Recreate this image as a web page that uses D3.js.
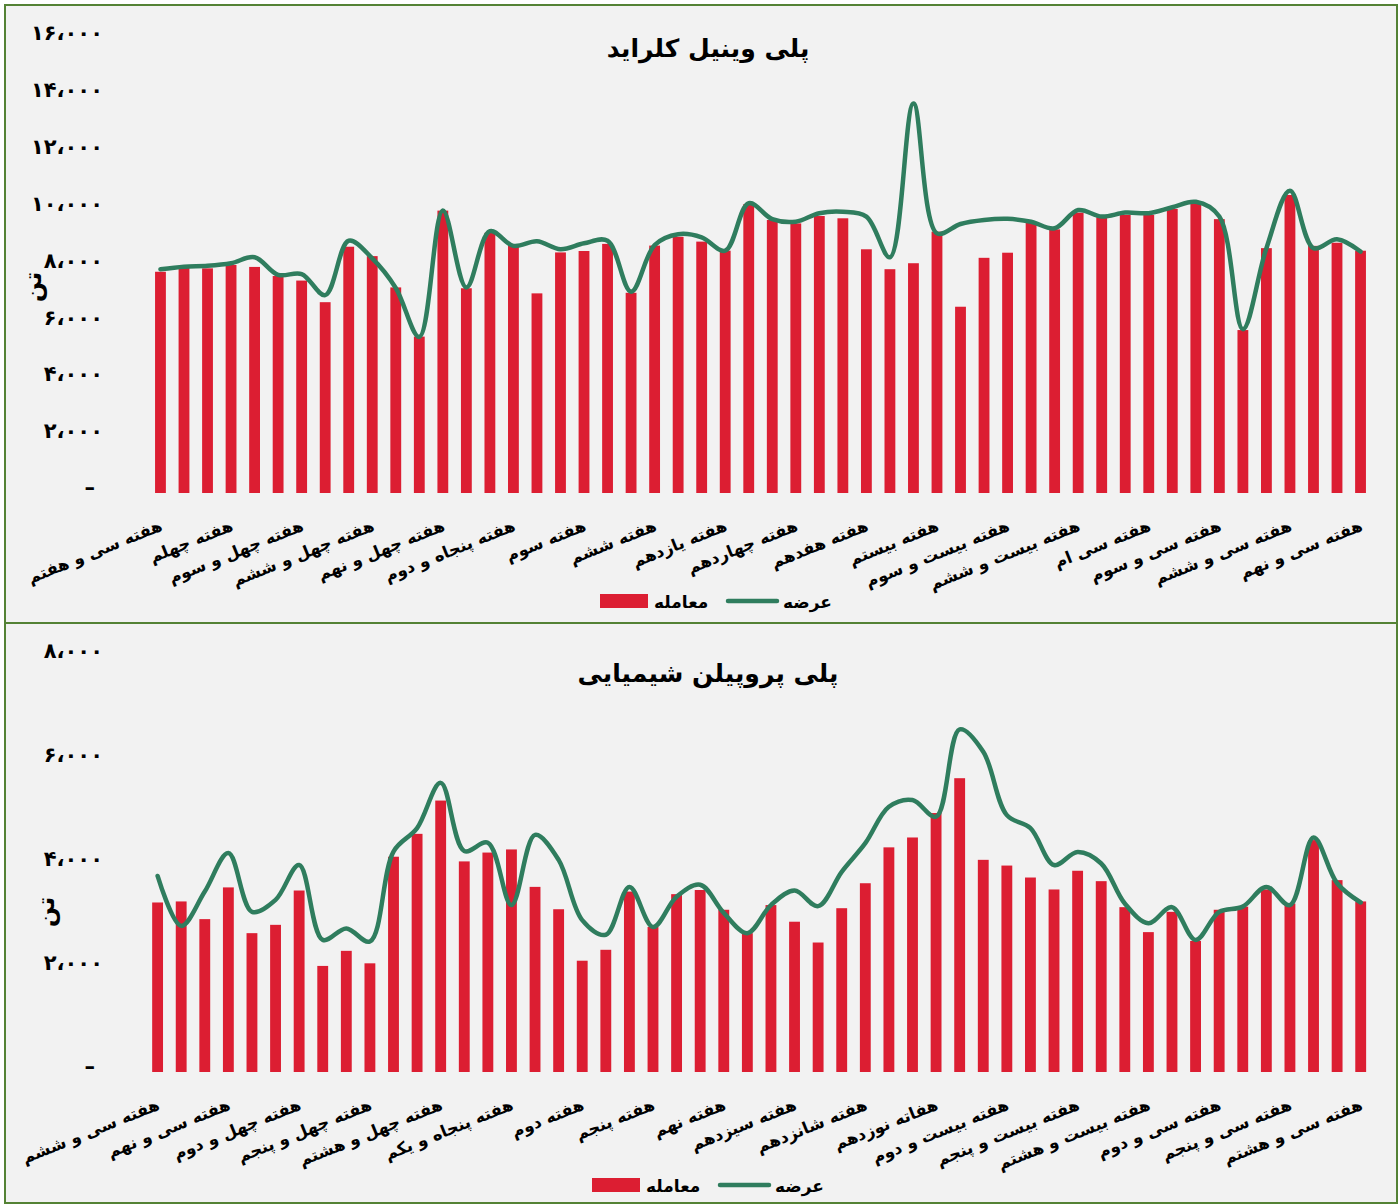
<!DOCTYPE html>
<html>
<head>
<meta charset="utf-8">
<script src="https://cdn.jsdelivr.net/npm/d3@7/dist/d3.min.js"></script>
<style>
    body { margin: 0; background: #ffffff; }
    text { font-family: "DejaVu Sans", sans-serif; font-weight: bold; fill: #000; }
</style>
</head>
<body>
<svg id="chart" width="1399" height="1204"></svg>
<script>
// week labels shown under every third bar
const pvcWeekLabels = [
    "هفته سی و هفتم", "هفته چهلم", "هفته چهل و سوم", "هفته چهل و ششم", "هفته چهل و نهم",
    "هفته پنجاه و دوم", "هفته سوم", "هفته ششم", "هفته یازدهم", "هفته چهاردهم",
    "هفته هفدهم", "هفته بیستم", "هفته بیست و سوم", "هفته بیست و ششم", "هفته سی ام",
    "هفته سی و سوم", "هفته سی و ششم", "هفته سی و نهم"
];
const pvcDeals = [
    7780, 7920, 7900, 8020, 7950, 7630, 7470, 6710, 8660, 8330,
    7230, 5500, 9930, 7200, 9150, 8720, 7020, 8460, 8510, 8760,
    7040, 8700, 9010, 8840, 8520, 10160, 9600, 9480, 9740, 9660,
    8570, 7870, 8080, 9190, 6550, 8270, 8450, 9510, 9270, 9860,
    9700, 9780, 9780, 9990, 10240, 9630, 5730, 8610, 10480, 8690,
    8800, 8520
];
const pvcSupply = [
    7870, 7960, 7990, 8080, 8290, 7670, 7700, 6960, 8870, 8250,
    7210, 5490, 9930, 7230, 9210, 8690, 8850, 8570, 8780, 8870,
    7080, 8720, 9100, 8990, 8520, 10190, 9630, 9540, 9840, 9890,
    9720, 8290, 13700, 9130, 9460, 9600, 9640, 9540, 9310, 9950,
    9720, 9860, 9840, 10050, 10240, 9720, 5760, 8610, 10630, 8610,
    8920, 8490
];

const ppWeekLabels = [
    "هفته سی و ششم", "هفته سی و نهم", "هفته چهل و دوم", "هفته چهل و پنجم", "هفته چهل و هشتم",
    "هفته پنجاه و یکم", "هفته دوم", "هفته پنجم", "هفته نهم", "هفته سیزدهم",
    "هفته شانزدهم", "هفاته نوزدهم", "هفته بیست و دوم", "هفته بیست و پنجم", "هفته بیست و هشتم",
    "هفته سی و دوم", "هفته سی و پنجم", "هفته سی و هشتم"
];
const ppDeals = [
    3260, 3280, 2940, 3550, 2670, 2830, 3490, 2040, 2330, 2090,
    4140, 4580, 5220, 4050, 4220, 4280, 3560, 3130, 2140, 2350,
    3470, 2790, 3420, 3500, 3120, 2670, 3210, 2890, 2490, 3150,
    3630, 4320, 4510, 4980, 5650, 4080, 3970, 3740, 3510, 3870,
    3670, 3170, 2690, 3080, 2520, 3120, 3180, 3510, 3240, 4460,
    3690, 3280
];
const ppSupply = [
    3770, 2810, 3470, 4210, 3080, 3310, 3980, 2540, 2760, 2510,
    4240, 4690, 5560, 4250, 4410, 3210, 4560, 4080, 2920, 2640,
    3560, 2790, 3370, 3600, 3060, 2670, 3210, 3490, 3190, 3850,
    4400, 5100, 5230, 4910, 6590, 6160, 4940, 4690, 3980, 4230,
    4010, 3240, 2860, 3170, 2540, 3080, 3180, 3560, 3210, 4510,
    3630, 3260
];

const legendNames = ["معامله", "عرضه"];
const unitLabel = "تن";

const dealColor = "#dc1e32";
const supplyColor = "#2f7d5e";
const borderColor = "#548235";

const faDigits = "۰۱۲۳۴۵۶۷۸۹";
const toFa = s => s.replace(/\d/g, d => faDigits[d]).replace(/,/g, "،");

const svg = d3.select("#chart");

const panels = [
    {
        title: "پلی وینیل کلراید", labels: pvcWeekLabels, deals: pvcDeals, supply: pvcSupply,
        top: 5, height: 618, xRange: [148.7, 1372.3], yRange: [493, 38], max: 16000,
        titleY: 57, unitY: 287, unitX: 33, legendX: 600, legendY: 601
    },
    {
        title: "پلی پروپیلن شیمیایی", labels: ppWeekLabels, deals: ppDeals, supply: ppSupply,
        top: 623, height: 580, xRange: [145.8, 1372.5], yRange: [1072, 656], max: 8000,
        titleY: 682, unitY: 912, unitX: 46, legendX: 592, legendY: 1185
    }
];

panels.forEach(p => {
    const g = svg.append("g");

    g.append("rect")
        .attr("x", 5).attr("y", p.top)
        .attr("width", 1392).attr("height", p.height)
        .attr("fill", "#f2f2f2")
        .attr("stroke", borderColor)
        .attr("stroke-width", 2);

    const idx = d3.range(p.deals.length);
    const x = d3.scaleBand()
        .domain(idx)
        .range(p.xRange)
        .paddingInner(0.54)
        .paddingOuter(0.27);
    const y = d3.scaleLinear().domain([0, p.max]).range(p.yRange);
    const cx = i => x(i) + x.bandwidth() / 2;

    // y axis
    const yAxis = g.append("g")
        .attr("transform", "translate(103,0)")
        .call(d3.axisLeft(y)
            .tickValues(d3.range(0, p.max + 1, 2000))
            .tickSize(0)
            .tickPadding(0)
            .tickFormat(v => v === 0 ? "–" : toFa(d3.format(",")(v))));
    yAxis.select(".domain").remove();
    yAxis.selectAll("text")
        .attr("y", -5)
        .attr("x", v => v === 0 ? -8 : 0)
        .style("font-family", "DejaVu Sans, sans-serif")
        .style("font-size", "21px")
        .style("font-weight", "bold");

    // x axis labels
    const xAxis = g.append("g")
        .attr("transform", `translate(0,${p.yRange[0]})`)
        .call(d3.axisBottom(x)
            .tickValues(idx.filter(i => i % 3 === 0))
            .tickSize(0)
            .tickFormat(i => p.labels[i / 3]));
    xAxis.select(".domain").remove();
    xAxis.selectAll("text")
        .attr("y", 0).attr("dy", 0)
        .attr("text-anchor", "end")
        .attr("transform", "translate(3,37) rotate(-22)")
        .style("font-family", "DejaVu Sans, sans-serif")
        .style("font-size", "16.5px")
        .style("font-weight", "bold");

    // bars
    g.append("g")
        .selectAll("rect")
        .data(p.deals)
        .enter()
            .append("rect")
            .attr("x", (d, i) => x(i))
            .attr("y", d => y(d))
            .attr("width", x.bandwidth())
            .attr("height", d => y(0) - y(d))
            .attr("fill", dealColor);

    // smoothed supply line
    const line = d3.line()
        .x((d, i) => cx(i))
        .y(d => y(d))
        .curve(d3.curveCatmullRom);
    g.append("path")
        .datum(p.supply)
        .attr("d", line)
        .attr("fill", "none")
        .attr("stroke", supplyColor)
        .attr("stroke-width", 4.5)
        .attr("stroke-linecap", "round");

    // title
    g.append("text")
        .attr("x", 708).attr("y", p.titleY)
        .attr("text-anchor", "middle")
        .style("font-size", "25px")
        .text(p.title);

    // unit
    g.append("text")
        .attr("transform", `translate(${p.unitX},${p.unitY}) rotate(-90)`)
        .attr("text-anchor", "middle")
        .attr("dy", "0.35em")
        .style("font-size", "24px")
        .text(unitLabel);

    // legend
    const lg = g.append("g").attr("transform", `translate(${p.legendX},${p.legendY})`);
    lg.append("rect")
        .attr("x", 0).attr("y", -7)
        .attr("width", 48).attr("height", 14)
        .attr("fill", dealColor);
    lg.append("text")
        .attr("x", 54).attr("y", 7)
        .style("font-size", "17px")
        .text(legendNames[0]);
    lg.append("line")
        .attr("x1", 128).attr("x2", 177)
        .attr("y1", 0).attr("y2", 0)
        .attr("stroke", supplyColor)
        .attr("stroke-width", 4.5)
        .attr("stroke-linecap", "round");
    lg.append("text")
        .attr("x", 183).attr("y", 7)
        .style("font-size", "17px")
        .text(legendNames[1]);
});
</script>
</body>
</html>
